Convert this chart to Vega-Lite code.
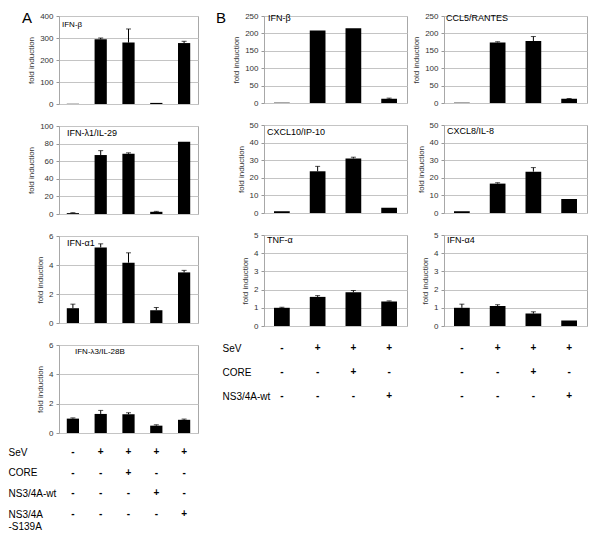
{
  "$schema": "https://vega.github.io/schema/vega-lite/v6.json",
  "autosize": {"type": "pad"},
  "padding": {"left": 8, "top": 10, "right": 0, "bottom": 0},
  "spacing": 17,
  "datasets": {
    "bars": [
      {"panel": "A1", "col": "1", "v": 1},
      {"panel": "A1", "col": "2", "v": 294, "hi": 300},
      {"panel": "A1", "col": "3", "v": 279, "hi": 341},
      {"panel": "A1", "col": "4", "v": 5},
      {"panel": "A1", "col": "5", "v": 277, "hi": 285},
      {"panel": "A2", "col": "1", "v": 1, "hi": 1.5},
      {"panel": "A2", "col": "2", "v": 67, "hi": 72},
      {"panel": "A2", "col": "3", "v": 68.5, "hi": 69.5},
      {"panel": "A2", "col": "4", "v": 2.5, "hi": 3},
      {"panel": "A2", "col": "5", "v": 82},
      {"panel": "A3", "col": "1", "v": 1.02, "hi": 1.3},
      {"panel": "A3", "col": "2", "v": 5.21, "hi": 5.46},
      {"panel": "A3", "col": "3", "v": 4.16, "hi": 4.84},
      {"panel": "A3", "col": "4", "v": 0.88, "hi": 1.07},
      {"panel": "A3", "col": "5", "v": 3.49, "hi": 3.63},
      {"panel": "A4", "col": "1", "v": 0.98, "hi": 1.03},
      {"panel": "A4", "col": "2", "v": 1.3, "hi": 1.54},
      {"panel": "A4", "col": "3", "v": 1.27, "hi": 1.38},
      {"panel": "A4", "col": "4", "v": 0.5, "hi": 0.56},
      {"panel": "A4", "col": "5", "v": 0.9, "hi": 0.95},
      {"panel": "B1", "col": "1", "v": 1},
      {"panel": "B1", "col": "2", "v": 208},
      {"panel": "B1", "col": "3", "v": 215},
      {"panel": "B1", "col": "4", "v": 12, "hi": 14},
      {"panel": "B2", "col": "1", "v": 1},
      {"panel": "B2", "col": "2", "v": 174, "hi": 176},
      {"panel": "B2", "col": "3", "v": 178, "hi": 191},
      {"panel": "B2", "col": "4", "v": 12, "hi": 13},
      {"panel": "B3", "col": "1", "v": 1},
      {"panel": "B3", "col": "2", "v": 23.7, "hi": 26.5},
      {"panel": "B3", "col": "3", "v": 31, "hi": 31.7},
      {"panel": "B3", "col": "4", "v": 3},
      {"panel": "B4", "col": "1", "v": 1},
      {"panel": "B4", "col": "2", "v": 16.7, "hi": 17.2},
      {"panel": "B4", "col": "3", "v": 23.5, "hi": 25.8},
      {"panel": "B4", "col": "4", "v": 8},
      {"panel": "B5", "col": "1", "v": 1.0, "hi": 1.03},
      {"panel": "B5", "col": "2", "v": 1.6, "hi": 1.67},
      {"panel": "B5", "col": "3", "v": 1.85, "hi": 1.95},
      {"panel": "B5", "col": "4", "v": 1.35, "hi": 1.38},
      {"panel": "B6", "col": "1", "v": 1.0, "hi": 1.2},
      {"panel": "B6", "col": "2", "v": 1.1, "hi": 1.17},
      {"panel": "B6", "col": "3", "v": 0.68, "hi": 0.78},
      {"panel": "B6", "col": "4", "v": 0.3}
    ],
    "tabA": [
      {"row": "SeV", "col": "1", "s": "-"}, {"row": "SeV", "col": "2", "s": "+"}, {"row": "SeV", "col": "3", "s": "+"}, {"row": "SeV", "col": "4", "s": "+"}, {"row": "SeV", "col": "5", "s": "+"},
      {"row": "CORE", "col": "1", "s": "-"}, {"row": "CORE", "col": "2", "s": "-"}, {"row": "CORE", "col": "3", "s": "+"}, {"row": "CORE", "col": "4", "s": "-"}, {"row": "CORE", "col": "5", "s": "-"},
      {"row": "NS3/4A-wt", "col": "1", "s": "-"}, {"row": "NS3/4A-wt", "col": "2", "s": "-"}, {"row": "NS3/4A-wt", "col": "3", "s": "-"}, {"row": "NS3/4A-wt", "col": "4", "s": "+"}, {"row": "NS3/4A-wt", "col": "5", "s": "-"},
      {"row": "NS3/4A|-S139A", "col": "1", "s": "-"}, {"row": "NS3/4A|-S139A", "col": "2", "s": "-"}, {"row": "NS3/4A|-S139A", "col": "3", "s": "-"}, {"row": "NS3/4A|-S139A", "col": "4", "s": "-"}, {"row": "NS3/4A|-S139A", "col": "5", "s": "+"}
    ],
    "tabB": [
      {"row": "SeV", "col": "1", "s": "-"}, {"row": "SeV", "col": "2", "s": "+"}, {"row": "SeV", "col": "3", "s": "+"}, {"row": "SeV", "col": "4", "s": "+"},
      {"row": "CORE", "col": "1", "s": "-"}, {"row": "CORE", "col": "2", "s": "-"}, {"row": "CORE", "col": "3", "s": "+"}, {"row": "CORE", "col": "4", "s": "-"},
      {"row": "NS3/4A-wt", "col": "1", "s": "-"}, {"row": "NS3/4A-wt", "col": "2", "s": "-"}, {"row": "NS3/4A-wt", "col": "3", "s": "-"}, {"row": "NS3/4A-wt", "col": "4", "s": "+"}
    ]
  },
  "hconcat": [
    {
      "bounds": "flush",
      "spacing": 22,
      "title": {"text": "A", "fontSize": 15, "dx": -37, "offset": -14},
      "vconcat": [
        {
          "width": 139, "height": 88,
          "title": {"text": "IFN-β", "fontSize": 8, "offset": -17},
          "data": {"name": "bars"},
          "transform": [{"filter": "datum.panel === 'A1'"}],
          "encoding": {"x": {"field": "col", "type": "nominal", "axis": null, "scale": {"paddingInner": 0.56, "paddingOuter": 0.28}}},
          "layer": [
            {"mark": {"type": "bar", "color": "black"}, "encoding": {"y": {"field": "v", "type": "quantitative", "title": "fold induction", "scale": {"domain": [0, 400]}, "axis": {"values": [0, 100, 200, 300, 400]}}}},
            {"transform": [{"filter": "datum.hi != null"}], "mark": {"type": "rule", "color": "black"}, "encoding": {"y": {"field": "v", "type": "quantitative", "title": "fold induction", "scale": {"domain": [0, 400]}, "axis": {"values": [0, 100, 200, 300, 400]}}, "y2": {"field": "hi"}}},
            {"transform": [{"filter": "datum.hi != null"}], "mark": {"type": "tick", "color": "black", "orient": "horizontal", "size": 5, "thickness": 1}, "encoding": {"y": {"field": "hi", "type": "quantitative", "title": "fold induction", "scale": {"domain": [0, 400]}, "axis": {"values": [0, 100, 200, 300, 400]}}}}
          ]
        },
        {
          "width": 139, "height": 88,
          "title": {"text": "IFN-λ1/IL-29", "dx": 8, "offset": -16},
          "data": {"name": "bars"},
          "transform": [{"filter": "datum.panel === 'A2'"}],
          "encoding": {"x": {"field": "col", "type": "nominal", "axis": null, "scale": {"paddingInner": 0.56, "paddingOuter": 0.28}}},
          "layer": [
            {"mark": {"type": "bar", "color": "black"}, "encoding": {"y": {"field": "v", "type": "quantitative", "title": "fold induction", "scale": {"domain": [0, 100]}, "axis": {"values": [0, 20, 40, 60, 80, 100]}}}},
            {"transform": [{"filter": "datum.hi != null"}], "mark": {"type": "rule", "color": "black"}, "encoding": {"y": {"field": "v", "type": "quantitative", "title": "fold induction", "scale": {"domain": [0, 100]}, "axis": {"values": [0, 20, 40, 60, 80, 100]}}, "y2": {"field": "hi"}}},
            {"transform": [{"filter": "datum.hi != null"}], "mark": {"type": "tick", "color": "black", "orient": "horizontal", "size": 5, "thickness": 1}, "encoding": {"y": {"field": "hi", "type": "quantitative", "title": "fold induction", "scale": {"domain": [0, 100]}, "axis": {"values": [0, 20, 40, 60, 80, 100]}}}}
          ]
        },
        {
          "width": 139, "height": 87,
          "title": {"text": "IFN-α1", "dx": 8, "offset": -16},
          "data": {"name": "bars"},
          "transform": [{"filter": "datum.panel === 'A3'"}],
          "encoding": {"x": {"field": "col", "type": "nominal", "axis": null, "scale": {"paddingInner": 0.56, "paddingOuter": 0.28}}},
          "layer": [
            {"mark": {"type": "bar", "color": "black"}, "encoding": {"y": {"field": "v", "type": "quantitative", "title": "fold induction", "scale": {"domain": [0, 6]}, "axis": {"values": [0, 2, 4, 6]}}}},
            {"transform": [{"filter": "datum.hi != null"}], "mark": {"type": "rule", "color": "black"}, "encoding": {"y": {"field": "v", "type": "quantitative", "title": "fold induction", "scale": {"domain": [0, 6]}, "axis": {"values": [0, 2, 4, 6]}}, "y2": {"field": "hi"}}},
            {"transform": [{"filter": "datum.hi != null"}], "mark": {"type": "tick", "color": "black", "orient": "horizontal", "size": 5, "thickness": 1}, "encoding": {"y": {"field": "hi", "type": "quantitative", "title": "fold induction", "scale": {"domain": [0, 6]}, "axis": {"values": [0, 2, 4, 6]}}}}
          ]
        },
        {
          "width": 139, "height": 88,
          "title": {"text": "IFN-λ3/IL-28B", "fontSize": 8, "dx": 16, "offset": -15},
          "data": {"name": "bars"},
          "transform": [{"filter": "datum.panel === 'A4'"}],
          "encoding": {"x": {"field": "col", "type": "nominal", "axis": null, "scale": {"paddingInner": 0.56, "paddingOuter": 0.28}}},
          "layer": [
            {"mark": {"type": "bar", "color": "black"}, "encoding": {"y": {"field": "v", "type": "quantitative", "title": "fold induction", "scale": {"domain": [0, 6]}, "axis": {"values": [0, 2, 4, 6]}}}},
            {"transform": [{"filter": "datum.hi != null"}], "mark": {"type": "rule", "color": "black"}, "encoding": {"y": {"field": "v", "type": "quantitative", "title": "fold induction", "scale": {"domain": [0, 6]}, "axis": {"values": [0, 2, 4, 6]}}, "y2": {"field": "hi"}}},
            {"transform": [{"filter": "datum.hi != null"}], "mark": {"type": "tick", "color": "black", "orient": "horizontal", "size": 5, "thickness": 1}, "encoding": {"y": {"field": "hi", "type": "quantitative", "title": "fold induction", "scale": {"domain": [0, 6]}, "axis": {"values": [0, 2, 4, 6]}}}}
          ]
        },
        {
          "width": 139, "height": 62,
          "data": {"name": "tabA"},
          "view": {"stroke": null},
          "mark": {"type": "text", "fontSize": 10, "fontWeight": "bold", "color": "black", "dy": -3},
          "encoding": {
            "x": {"field": "col", "type": "nominal", "axis": null, "scale": {"type": "point", "padding": 0.5}},
            "y": {"field": "row", "type": "nominal", "sort": ["SeV", "CORE", "NS3/4A-wt", "NS3/4A|-S139A"], "scale": {"type": "point", "padding": 0},
                  "axis": {"title": null, "domain": false, "ticks": false, "grid": false, "labelAlign": "left", "labelPadding": 51, "labelFontSize": 10, "labelColor": "black", "labelOffset": -3, "labelExpr": "split(datum.value, '|')"}},
            "text": {"field": "s"}
          }
        }
      ]
    },
    {
      "bounds": "flush",
      "columns": 2,
      "spacing": {"row": 22, "column": 37},
      "title": {"text": "B", "fontSize": 15, "dx": -48, "offset": -14},
      "concat": [
        {
          "width": 143, "height": 87,
          "title": {"text": "IFN-β", "dx": 4, "offset": -11},
          "data": {"name": "bars"},
          "transform": [{"filter": "datum.panel === 'B1'"}],
          "encoding": {"x": {"field": "col", "type": "nominal", "axis": null, "scale": {"paddingInner": 0.56, "paddingOuter": 0.28}}},
          "layer": [
            {"mark": {"type": "bar", "color": "black"}, "encoding": {"y": {"field": "v", "type": "quantitative", "title": "fold induction", "scale": {"domain": [0, 250]}, "axis": {"values": [0, 50, 100, 150, 200, 250]}}}},
            {"transform": [{"filter": "datum.hi != null"}], "mark": {"type": "rule", "color": "black"}, "encoding": {"y": {"field": "v", "type": "quantitative", "title": "fold induction", "scale": {"domain": [0, 250]}, "axis": {"values": [0, 50, 100, 150, 200, 250]}}, "y2": {"field": "hi"}}},
            {"transform": [{"filter": "datum.hi != null"}], "mark": {"type": "tick", "color": "black", "orient": "horizontal", "size": 5, "thickness": 1}, "encoding": {"y": {"field": "hi", "type": "quantitative", "title": "fold induction", "scale": {"domain": [0, 250]}, "axis": {"values": [0, 50, 100, 150, 200, 250]}}}}
          ]
        },
        {
          "width": 143, "height": 87,
          "title": {"text": "CCL5/RANTES", "dx": 2, "offset": -11},
          "data": {"name": "bars"},
          "transform": [{"filter": "datum.panel === 'B2'"}],
          "encoding": {"x": {"field": "col", "type": "nominal", "axis": null, "scale": {"paddingInner": 0.56, "paddingOuter": 0.28}}},
          "layer": [
            {"mark": {"type": "bar", "color": "black"}, "encoding": {"y": {"field": "v", "type": "quantitative", "title": "fold induction", "scale": {"domain": [0, 250]}, "axis": {"values": [0, 50, 100, 150, 200, 250]}}}},
            {"transform": [{"filter": "datum.hi != null"}], "mark": {"type": "rule", "color": "black"}, "encoding": {"y": {"field": "v", "type": "quantitative", "title": "fold induction", "scale": {"domain": [0, 250]}, "axis": {"values": [0, 50, 100, 150, 200, 250]}}, "y2": {"field": "hi"}}},
            {"transform": [{"filter": "datum.hi != null"}], "mark": {"type": "tick", "color": "black", "orient": "horizontal", "size": 5, "thickness": 1}, "encoding": {"y": {"field": "hi", "type": "quantitative", "title": "fold induction", "scale": {"domain": [0, 250]}, "axis": {"values": [0, 50, 100, 150, 200, 250]}}}}
          ]
        },
        {
          "width": 143, "height": 88,
          "title": {"text": "CXCL10/IP-10", "dx": 3, "offset": -16},
          "data": {"name": "bars"},
          "transform": [{"filter": "datum.panel === 'B3'"}],
          "encoding": {"x": {"field": "col", "type": "nominal", "axis": null, "scale": {"paddingInner": 0.56, "paddingOuter": 0.28}}},
          "layer": [
            {"mark": {"type": "bar", "color": "black"}, "encoding": {"y": {"field": "v", "type": "quantitative", "title": "fold induction", "scale": {"domain": [0, 50]}, "axis": {"values": [0, 10, 20, 30, 40, 50]}}}},
            {"transform": [{"filter": "datum.hi != null"}], "mark": {"type": "rule", "color": "black"}, "encoding": {"y": {"field": "v", "type": "quantitative", "title": "fold induction", "scale": {"domain": [0, 50]}, "axis": {"values": [0, 10, 20, 30, 40, 50]}}, "y2": {"field": "hi"}}},
            {"transform": [{"filter": "datum.hi != null"}], "mark": {"type": "tick", "color": "black", "orient": "horizontal", "size": 5, "thickness": 1}, "encoding": {"y": {"field": "hi", "type": "quantitative", "title": "fold induction", "scale": {"domain": [0, 50]}, "axis": {"values": [0, 10, 20, 30, 40, 50]}}}}
          ]
        },
        {
          "width": 143, "height": 88,
          "title": {"text": "CXCL8/IL-8", "dx": 3, "offset": -15},
          "data": {"name": "bars"},
          "transform": [{"filter": "datum.panel === 'B4'"}],
          "encoding": {"x": {"field": "col", "type": "nominal", "axis": null, "scale": {"paddingInner": 0.56, "paddingOuter": 0.28}}},
          "layer": [
            {"mark": {"type": "bar", "color": "black"}, "encoding": {"y": {"field": "v", "type": "quantitative", "title": "fold induction", "scale": {"domain": [0, 50]}, "axis": {"values": [0, 10, 20, 30, 40, 50]}}}},
            {"transform": [{"filter": "datum.hi != null"}], "mark": {"type": "rule", "color": "black"}, "encoding": {"y": {"field": "v", "type": "quantitative", "title": "fold induction", "scale": {"domain": [0, 50]}, "axis": {"values": [0, 10, 20, 30, 40, 50]}}, "y2": {"field": "hi"}}},
            {"transform": [{"filter": "datum.hi != null"}], "mark": {"type": "tick", "color": "black", "orient": "horizontal", "size": 5, "thickness": 1}, "encoding": {"y": {"field": "hi", "type": "quantitative", "title": "fold induction", "scale": {"domain": [0, 50]}, "axis": {"values": [0, 10, 20, 30, 40, 50]}}}}
          ]
        },
        {
          "width": 143, "height": 91,
          "title": {"text": "TNF-α", "dx": 3, "offset": -14},
          "data": {"name": "bars"},
          "transform": [{"filter": "datum.panel === 'B5'"}],
          "encoding": {"x": {"field": "col", "type": "nominal", "axis": null, "scale": {"paddingInner": 0.56, "paddingOuter": 0.28}}},
          "layer": [
            {"mark": {"type": "bar", "color": "black"}, "encoding": {"y": {"field": "v", "type": "quantitative", "title": "fold induction", "scale": {"domain": [0, 5]}, "axis": {"values": [0, 1, 2, 3, 4, 5]}}}},
            {"transform": [{"filter": "datum.hi != null"}], "mark": {"type": "rule", "color": "black"}, "encoding": {"y": {"field": "v", "type": "quantitative", "title": "fold induction", "scale": {"domain": [0, 5]}, "axis": {"values": [0, 1, 2, 3, 4, 5]}}, "y2": {"field": "hi"}}},
            {"transform": [{"filter": "datum.hi != null"}], "mark": {"type": "tick", "color": "black", "orient": "horizontal", "size": 5, "thickness": 1}, "encoding": {"y": {"field": "hi", "type": "quantitative", "title": "fold induction", "scale": {"domain": [0, 5]}, "axis": {"values": [0, 1, 2, 3, 4, 5]}}}}
          ]
        },
        {
          "width": 143, "height": 91,
          "title": {"text": "IFN-α4", "dx": 3, "offset": -14},
          "data": {"name": "bars"},
          "transform": [{"filter": "datum.panel === 'B6'"}],
          "encoding": {"x": {"field": "col", "type": "nominal", "axis": null, "scale": {"paddingInner": 0.56, "paddingOuter": 0.28}}},
          "layer": [
            {"mark": {"type": "bar", "color": "black"}, "encoding": {"y": {"field": "v", "type": "quantitative", "title": "fold induction", "scale": {"domain": [0, 5]}, "axis": {"values": [0, 1, 2, 3, 4, 5]}}}},
            {"transform": [{"filter": "datum.hi != null"}], "mark": {"type": "rule", "color": "black"}, "encoding": {"y": {"field": "v", "type": "quantitative", "title": "fold induction", "scale": {"domain": [0, 5]}, "axis": {"values": [0, 1, 2, 3, 4, 5]}}, "y2": {"field": "hi"}}},
            {"transform": [{"filter": "datum.hi != null"}], "mark": {"type": "tick", "color": "black", "orient": "horizontal", "size": 5, "thickness": 1}, "encoding": {"y": {"field": "hi", "type": "quantitative", "title": "fold induction", "scale": {"domain": [0, 5]}, "axis": {"values": [0, 1, 2, 3, 4, 5]}}}}
          ]
        },
        {
          "width": 143, "height": 48,
          "data": {"name": "tabB"},
          "view": {"stroke": null},
          "mark": {"type": "text", "fontSize": 10, "fontWeight": "bold", "color": "black"},
          "encoding": {
            "x": {"field": "col", "type": "nominal", "axis": null, "scale": {"type": "point", "padding": 0.5}},
            "y": {"field": "row", "type": "nominal", "sort": ["SeV", "CORE", "NS3/4A-wt"], "scale": {"type": "point", "padding": 0},
                  "axis": {"title": null, "domain": false, "ticks": false, "grid": false, "labelAlign": "left", "labelPadding": 42, "labelFontSize": 10, "labelColor": "black"}},
            "text": {"field": "s"}
          }
        },
        {
          "width": 143, "height": 48,
          "data": {"name": "tabB"},
          "view": {"stroke": null},
          "mark": {"type": "text", "fontSize": 10, "fontWeight": "bold", "color": "black"},
          "encoding": {
            "x": {"field": "col", "type": "nominal", "axis": null, "scale": {"type": "point", "padding": 0.5}},
            "y": {"field": "row", "type": "nominal", "sort": ["SeV", "CORE", "NS3/4A-wt"], "scale": {"type": "point", "padding": 0}, "axis": null},
            "text": {"field": "s"}
          }
        }
      ]
    }
  ],
  "config": {
    "font": "Liberation Sans",
    "view": {"stroke": "#a8a8a8", "strokeWidth": 1},
    "axisY": {
      "labelFontSize": 8, "labelColor": "#333333", "labelPadding": 3,
      "labelOverlap": false, "labelFlush": false,
      "tickColor": "#999999", "tickSize": 3,
      "domain": false,
      "gridColor": "#c4c4c4",
      "titleFontSize": 8, "titleFontWeight": "normal", "titleColor": "#333333", "titlePadding": 4
    },
    "title": {"anchor": "start", "frame": "group", "fontWeight": "normal", "fontSize": 9, "color": "black", "offset": -12, "dx": 3}
  }
}
